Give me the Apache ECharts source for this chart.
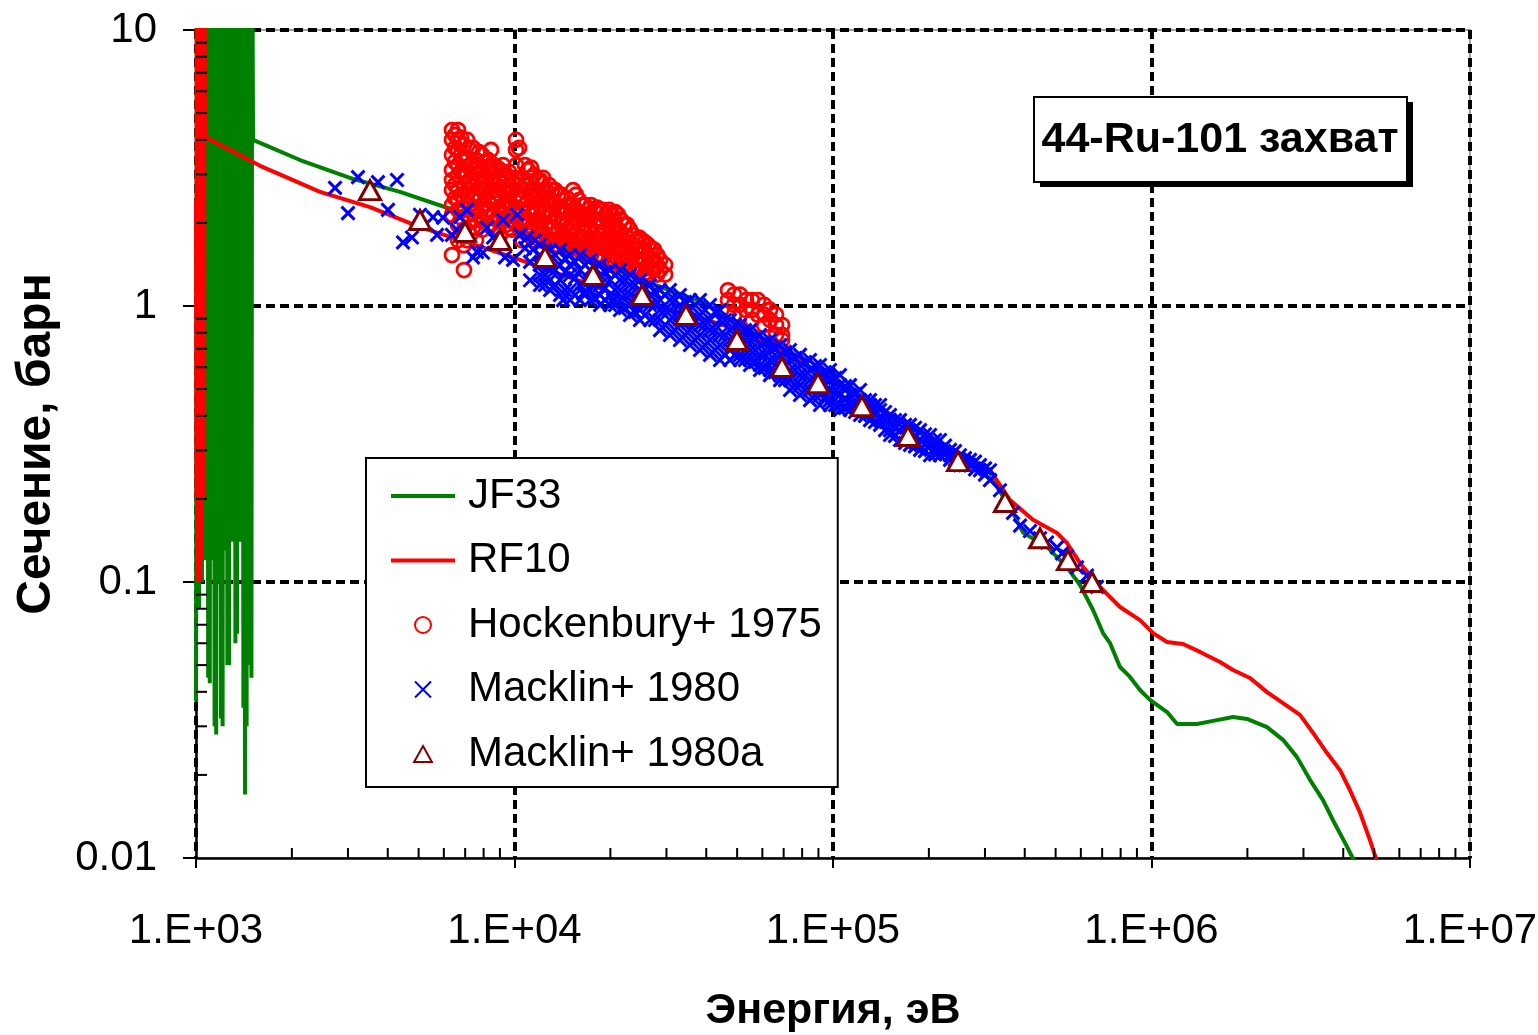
<!DOCTYPE html>
<html><head><meta charset="utf-8">
<script src="https://cdn.jsdelivr.net/npm/echarts@6/dist/echarts.min.js"></script>
<style>html,body{margin:0;padding:0;background:#fff}#c{width:1538px;height:1035px}</style>
</head><body><div id="c"></div>
<script>
// ---------- DATA ----------
const xTickExp = ['03','04','05','06','07'];
const yTickLabels = ['0.01','0.1','1','10'];
const minorFactors = [2,3,4,5,6,7,8,9];
const xDecades = [1e3,1e4,1e5,1e6];
const yDecades = [0.01,0.1,1];

// JF33 resolved-resonance region (E eV, sigma b)
const jf33Res = [[1000,0.037],[1007,30],[1022,0.08],[1029,30],[1044,0.1],[1052,30],
 [1067,0.12],[1073,30],[1079.5,0.15],[1085.8,30],[1092.1,0.045],[1098.4,30],[1104.8,0.043],[1111.2,30],
 [1117.7,0.14],[1124.2,30],[1130.7,0.12],[1137.3,30],[1143.9,0.03],[1150.5,30],[1157.2,0.028],[1163.9,30],
 [1170.6,0.1],[1177.4,30],[1184.3,0.15],[1191.1,30],[1198,0.032],[1205,30],[1212,0.03],[1219,30],
 [1226.1,0.13],[1233.2,30],[1240.4,0.15],[1247.6,30],[1254.8,0.05],[1262.1,30],[1269.4,0.05],[1276.8,30],
 [1284.2,0.15],[1291.7,30],[1299.2,0.14],[1306.7,30],[1314.3,0.15],[1321.9,30],[1329.6,0.06],[1337.3,30],
 [1345.1,0.065],[1352.9,30],[1360.7,0.15],[1368.6,30],[1376.6,0.14],[1384.6,30],[1392.6,0.15],[1400.7,30],
 [1408.8,0.035],[1417,30],[1425.2,0.017],[1433.5,30],[1441.8,0.03],[1450.2,30],[1458.6,0.14],[1467.1,30],
 [1475.6,0.05],[1484.2,30],[1492.8,0.045],[1501.5,30]];
const jf33Smooth = [[1510,4.0],[1589,3.9],[2121,3.38],[3044,2.91],[4370,2.59],[6140,2.27],[9006,1.98],[12020,1.78],[18560,1.44],[26630,1.21],[39080,1.03],[51050,0.853],[73280,0.664],[115600,0.484],[162300,0.386],[250400,0.281],[318000,0.234],[367400,0.178],[395100,0.151],[469900,0.134],[542900,0.113],[596500,0.0975],[655300,0.0792],[704200,0.0653],[740800,0.0601],[796200,0.0492],[856000,0.0453],[920000,0.0406],[989000,0.0374],[1119000,0.0338],[1203000,0.0306],[1390000,0.0306],[1561000,0.0314],[1803000,0.0324],[1995000,0.0319],[2305000,0.0298],[2588000,0.0268],[2863000,0.0232],[3145000,0.0192],[3455000,0.0162],[3714000,0.0137],[4110000,0.011],[4418000,0.0093]];

// RF10
const rf10Res = [[1000,2.4],[1003,0.2],[1005,30],[1008,0.15],[1011,30],[1014,0.1],[1017,30],[1021,0.11],[1024,30],[1028,0.1],[1032,30],[1036,0.12],[1040,30],[1044,0.15],[1048,30],[1052,0.2],[1056,30],[1060,0.3],[1063,30]];
const rf10Smooth = [[1067,4.1],[1326,3.6],[1589,3.22],[1959,2.9],[2451,2.59],[3518,2.28],[5050,1.93],[7250,1.69],[10410,1.47],[13210,1.33],[16890,1.21],[21440,1.08],[28630,0.983],[38230,0.905],[51050,0.818],[73280,0.664],[115600,0.484],[162300,0.386],[250400,0.281],[311100,0.2545],[359500,0.198],[424600,0.168],[505000,0.1505],[542900,0.1385],[596500,0.117],[689200,0.0959],[796200,0.0812],[920000,0.0728],[1011000,0.0653],[1119000,0.0606],[1256000,0.0596],[1420000,0.0558],[1641000,0.0513],[1803000,0.048],[2038000,0.0449],[2305000,0.0399],[2588000,0.0364],[2926000,0.033],[3215000,0.0284],[3557000,0.024],[3908000,0.0208],[4200000,0.0176],[4515000,0.0146],[4853000,0.0116],[5217000,0.009]];

// Hockenbury+ 1975: [energy, [cross sections at that energy]]
const hockCols = [
 [6364,[4.34,4.00,3.53,3.11,2.86,2.63,2.32,2.14,1.53]],
 [6504,[4.165,3.74,3.33,2.744,2.46]],
 [6647,[4.34,4.00,3.68,3.24,2.98,2.63,2.42,2.23,1.97,1.73]],
 [6792,[4.07,3.525,3.06,2.525,2.09]],
 [6940,[3.83,3.38,3.11,2.74,2.42,2.23,1.89,1.66,1.35]],
 [7095,[4.00,3.43,2.98,2.53,2.14,1.73]],
 [7250,[3.68,3.24,2.86,2.63,2.32,2.05,1.81]],
 [7407,[3.74,3.33,2.74,2.42,1.92]],
 [7571,[3.38,3.11,2.86,2.53,2.23,2.05,1.73]],
 [7736,[3.61,3.24,2.98,2.68,2.42,2.14]],
 [7907,[3.53,3.11,2.86,2.63,2.32,2.05,1.89]],
 [8082,[3.33,2.98,2.53,2.19]],
 [8256,[3.38,3.11,2.74,2.42,2.23,1.97]],
 [8437,[3.675,3.24,2.91,2.59,2.09]],
 [8623,[3.24,2.86,2.63,2.42,2.14,1.89]],
 [8811,[3.17,2.74,2.46,2.05]],
 [9006,[3.11,2.86,2.53,2.23,2.05,1.81]],
 [9203,[3.24,2.98,2.68,2.32,2.14]],
 [9404,[2.98,2.63,2.42,2.23,1.97]],
 [9610,[3.06,2.74,2.53,2.14,1.92]],
 [9822,[2.86,2.63,2.32,2.05,1.89]],
 [10110,[4.00,3.68,3.24,2.86,2.53,2.23,1.97]],
 [10330,[3.74,2.74,2.46,2.14]],
 [10560,[2.86,2.63,2.42,2.23,1.97,1.73]],
 [10790,[3.24,2.74,2.32,2.05,1.85]],
 [11030,[3.11,2.74,2.42,2.23,2.05,1.81]],
 [11270,[3.17,2.91,2.59,2.14,1.92]],
 [11510,[2.98,2.63,2.42,2.14,1.89,1.73]],
 [11770,[2.86,2.53,2.23,2.02,1.81]],
 [12020,[2.86,2.53,2.32,2.05,1.89,1.73]],
 [12290,[2.91,2.63,2.32,2.14,1.85]],
 [12560,[2.63,2.42,2.23,1.97,1.81]],
 [12840,[2.74,2.46,2.14,1.89,1.70]],
 [13110,[2.63,2.32,2.14,1.89,1.73,1.60]],
 [13410,[2.63,2.32,2.09,1.81,1.66]],
 [13700,[2.53,2.23,2.05,1.89,1.66]],
 [14000,[2.53,2.23,1.97,1.73]],
 [14300,[2.42,2.23,2.05,1.81,1.66]],
 [14620,[2.46,2.19,2.02,1.77,1.60]],
 [14940,[2.32,2.14,1.89,1.73,1.60]],
 [15270,[2.63,2.32,2.14,1.92,1.70]],
 [15600,[2.53,2.23,2.05,1.81,1.66]],
 [15940,[2.42,2.19,1.97,1.77,1.60]],
 [16290,[2.32,2.14,1.89,1.73,1.60]],
 [16650,[2.32,2.14,1.97,1.77,1.57]],
 [17010,[2.23,2.05,1.89,1.66,1.53]],
 [17390,[2.32,2.09,1.89,1.70,1.53]],
 [17770,[2.23,1.97,1.73,1.60]],
 [18160,[2.27,2.05,1.85,1.66,1.53]],
 [18560,[2.23,2.05,1.81,1.66,1.47]],
 [18970,[2.23,2.02,1.81,1.62,1.49]],
 [19380,[2.14,1.89,1.73,1.60]],
 [19810,[2.23,2.02,1.81,1.62,1.47]],
 [20240,[2.14,1.89,1.73,1.53,1.41]],
 [20690,[2.19,1.97,1.77,1.60,1.44]],
 [21130,[2.14,1.89,1.73,1.60,1.47]],
 [21600,[2.05,1.85,1.66,1.49]],
 [22070,[1.97,1.73,1.60,1.47]],
 [22560,[1.97,1.77,1.60,1.44]],
 [23050,[1.89,1.66,1.53,1.41]],
 [23560,[1.81,1.66,1.53,1.37]],
 [24070,[1.73,1.60,1.47,1.35]],
 [24600,[1.77,1.62,1.47,1.35]],
 [25140,[1.73,1.60,1.47,1.35]],
 [25690,[1.70,1.57,1.44,1.32]],
 [26250,[1.66,1.53,1.41,1.30]],
 [26830,[1.62,1.49,1.37]],
 [27420,[1.60,1.47,1.35]],
 [28020,[1.53,1.41,1.30]],
 [28630,[1.47,1.35]],
 [29690,[1.41,1.30]],
 [46810,[1.14,1.05]],
 [48900,[1.10,1.01,0.93]],
 [51050,[1.10,1.01,0.93]],
 [53310,[1.05,0.967]],
 [55680,[1.05,0.967,0.89]],
 [58150,[1.05,0.93]],
 [60720,[1.01,0.93,0.853]],
 [63410,[0.967,0.89]],
 [66220,[0.93,0.853,0.785]],
 [69170,[0.853,0.785,0.753]]
];

// Macklin+ 1980
const mackSparse = [[2732,2.68],[3001,2.17],[3226,2.93],[3727,2.81],[4006,2.23],[4276,2.86],[4467,1.70],[4766,1.77],[5050,2.14],[5548,2.10],[5964,2.09],[5711,1.81],[6364,1.81],[6744,2.10],[7095,2.23],[6598,1.89],[7625,1.57],[7407,1.50],[7962,1.56],[8196,1.92],[8562,1.77],[9203,2.05],[10180,2.14],[9892,1.47],[9337,1.50],[10410,1.81],[10950,1.77],[11430,1.60],[11190,1.24],[10790,1.62],[11190,1.445],[11600,1.73],[13210,1.17],[14200,1.05],[16410,1.11],[20390,1.05]];
const mackCols = [
 [12020,[1.663,1.53,1.408,1.295,1.191]],
 [12470,[1.596,1.444,1.295,1.191]],
 [12930,[1.596,1.468,1.35,1.242,1.143]],
 [13410,[1.53,1.35,1.191]],
 [13900,[1.596,1.408,1.242,1.096]],
 [14410,[1.49,1.328,1.143]],
 [14940,[1.53,1.408,1.295,1.143,1.051]],
 [15490,[1.444,1.263,1.096]],
 [16060,[1.53,1.35,1.191,1.051]],
 [16650,[1.408,1.242,1.124]],
 [17270,[1.468,1.35,1.242,1.143,1.051]],
 [17900,[1.373,1.221,1.069]],
 [18560,[1.408,1.295,1.191,1.096,1.008]],
 [19240,[1.328,1.161,1.051]],
 [19950,[1.35,1.242,1.096,1.008]],
 [20690,[1.295,1.143,1.008]],
 [21440,[1.35,1.242,1.143,1.051,0.967]],
 [22230,[1.242,1.096,0.983]],
 [23050,[1.295,1.191,1.096,1.008,0.928]],
 [23890,[1.191,1.069,0.951]],
 [24770,[1.242,1.143,1.051,0.967,0.89]],
 [25690,[1.161,1.034,0.928]],
 [26630,[1.191,1.096,1.008,0.89]],
 [27610,[1.124,1.008,0.89]],
 [28630,[1.143,1.051,0.967,0.89,0.818]],
 [29690,[1.096,0.967,0.853]],
 [30770,[1.143,1.051,0.967,0.89,0.785]],
 [31910,[1.051,0.928,0.818]],
 [33080,[1.096,1.008,0.928,0.853,0.753]],
 [34300,[1.034,0.905,0.785]],
 [35560,[1.051,0.967,0.89,0.818,0.722]],
 [36870,[1.008,0.875,0.753]],
 [38230,[1.051,0.928,0.853,0.785,0.693]],
 [39640,[0.967,0.853,0.722]],
 [41100,[1.008,0.89,0.818,0.753,0.665]],
 [42610,[0.951,0.818,0.693]],
 [44180,[0.967,0.89,0.785,0.722,0.637]],
 [45810,[0.89,0.785,0.665]],
 [47490,[0.89,0.818,0.753,0.693,0.637]],
 [49240,[0.853,0.753,0.665]],
 [51050,[0.853,0.785,0.722,0.665,0.637]],
 [52930,[0.818,0.753,0.693,0.637]],
 [54880,[0.818,0.753,0.693,0.637,0.611]],
 [56900,[0.765,0.693,0.627]],
 [58990,[0.785,0.722,0.665,0.611,0.586]],
 [61170,[0.741,0.665,0.596]],
 [63410,[0.753,0.693,0.637,0.586,0.562]],
 [65740,[0.704,0.637,0.576]],
 [68180,[0.722,0.665,0.611,0.562,0.539]],
 [70690,[0.682,0.611,0.539]],
 [73280,[0.693,0.637,0.586,0.539,0.496]],
 [75970,[0.648,0.586,0.517]],
 [78770,[0.665,0.611,0.562,0.517,0.476]],
 [81690,[0.627,0.562,0.496]],
 [84690,[0.637,0.586,0.539,0.496,0.456]],
 [87810,[0.606,0.539,0.476]],
 [91030,[0.611,0.562,0.517,0.476,0.438]],
 [94390,[0.576,0.517,0.464]],
 [97860,[0.586,0.539,0.496,0.456,0.438]],
 [101500,[0.548,0.488,0.438]],
 [105200,[0.562,0.517,0.476,0.438,0.42]],
 [109100,[0.513,0.464,0.427]],
 [113100,[0.517,0.476,0.438,0.42]],
 [117300,[0.48,0.441,0.413]],
 [121600,[0.496,0.456,0.42,0.403]],
 [126100,[0.456,0.42,0.40]],
 [130700,[0.456,0.438,0.42,0.386]],
 [135500,[0.438,0.406,0.38]],
 [140500,[0.438,0.42,0.386,0.371]],
 [145700,[0.413,0.386,0.355]],
 [151000,[0.403,0.386,0.355,0.341]],
 [156600,[0.386,0.362,0.338]],
 [162300,[0.386,0.355,0.327]],
 [168400,[0.371,0.341,0.319]],
 [174500,[0.371,0.341,0.314]],
 [181000,[0.362,0.333,0.31]],
 [187600,[0.355,0.327,0.301]],
 [194500,[0.343,0.317,0.298]],
 [201700,[0.341,0.314,0.288]],
 [209200,[0.327,0.306,0.29]],
 [216700,[0.327,0.301,0.288]],
 [224800,[0.312,0.293]],
 [233000,[0.301,0.288,0.277]],
 [241600,[0.298,0.277]],
 [250400,[0.288,0.277,0.265]],
 [259700,[0.281,0.265]],
 [269200,[0.277,0.265]],
 [279200,[0.273,0.256]],
 [289400,[0.265,0.254]],
 [300100,[0.258,0.245]],
 [311100,[0.254,0.234]]
];
const mackTail = [[334400,0.215],[367400,0.178],[386500,0.160],[415500,0.153],[446700,0.144],[469900,0.139],[505000,0.1335],[523600,0.127],[542900,0.124],[583700,0.113],[627400,0.1055],[674500,0.096]];

// Macklin+ 1980a
const mackA = [[3518,2.63],[5050,2.05],[6993,1.855],[9006,1.734],[12470,1.505],[17640,1.295],[25140,1.096],[34550,0.928],[49950,0.753],[69170,0.601],[89740,0.525],[123300,0.434],[172000,0.338],[246900,0.274],[346700,0.195],[446700,0.144],[546800,0.120],[650600,0.100]];

// ---------- BUILD ----------
function flattenCols(cols){const out=[];cols.forEach(c=>c[1].forEach(v=>out.push([c[0],v])));return out;}
const jf33 = jf33Res.concat(jf33Smooth);
const rf10 = rf10Res.concat(rf10Smooth);
const hock = flattenCols(hockCols);
const mack = mackSparse.concat(flattenCols(mackCols), mackTail);
const xMinor = [], yMinor = [];
xDecades.forEach(d=>minorFactors.forEach(f=>xMinor.push([d*f,0.01])));
yDecades.forEach(d=>minorFactors.forEach(f=>yMinor.push([1000,d*f])));

const FONT = '"Liberation Sans", Arial, sans-serif';
const TRI = 'path://M5 0L10 9L0 9Z';

const chart = echarts.init(document.getElementById('c'), null, {renderer:'canvas'});
chart.setOption({
  animation:false,
  backgroundColor:'#fff',
  grid:{left:196, top:30, right:68, bottom:177, containLabel:false, outerBoundsMode:'none',
    show:true, borderColor:'#808080', borderWidth:1.5, backgroundColor:'transparent'},
  xAxis:{
    type:'log', logBase:10, min:1000, max:1e7,
    name:'Энергия, эВ', nameLocation:'middle', nameGap:132,
    nameTextStyle:{fontFamily:FONT, fontWeight:'bold', fontSize:43, color:'#000'},
    axisLine:{show:true, onZero:false, lineStyle:{color:'#000', width:2.5}},
    axisTick:{show:true, inside:false, length:10, lineStyle:{color:'#000', width:2}},
    axisLabel:{margin:52, fontFamily:FONT, fontSize:42, color:'#000',
      formatter:v=>'1.E+'+xTickExp[Math.round(Math.log10(v))-3]},
    splitLine:{show:true, showMinLine:false, lineStyle:{color:'#000', width:4, type:[9,5]}},
    minorTick:{show:false}, minorSplitLine:{show:false}
  },
  yAxis:{
    type:'log', logBase:10, min:0.01, max:10,
    name:'Сечение, барн', nameLocation:'middle', nameGap:135, nameRotate:90,
    nameTextStyle:{fontFamily:FONT, fontWeight:'bold', fontSize:48, color:'#000'},
    axisLine:{show:true, onZero:false, lineStyle:{color:'#000', width:2.5}},
    axisTick:{show:true, inside:false, length:13, lineStyle:{color:'#000', width:2}},
    axisLabel:{margin:39, fontFamily:FONT, fontSize:42, color:'#000',
      formatter:v=>yTickLabels[Math.round(Math.log10(v))+2]},
    splitLine:{show:true, showMinLine:false, lineStyle:{color:'#000', width:4, type:[9,5]}}
  },
  legend:{
    orient:'vertical', left:366, top:458,
    data:[
      {name:'JF33', itemStyle:{opacity:0}, lineStyle:{width:4}},
      {name:'RF10', itemStyle:{opacity:0}, lineStyle:{width:4}},
      'Hockenbury+ 1975','Macklin+ 1980',
      {name:'Macklin+ 1980a', icon:TRI}],
    symbolKeepAspect:true,
    itemWidth:64, itemHeight:16, itemGap:14.5,
    padding:[13,16,8,23],
    borderColor:'#000', borderWidth:2, backgroundColor:'#fff',
    selectedMode:false,
    textStyle:{fontFamily:FONT, fontSize:42, lineHeight:50, color:'#000', padding:[0,0,0,8]}
  },
  graphic:[
    {type:'rect', left:1040, top:102, z:100, shape:{width:373, height:85}, style:{fill:'#000'}},
    {type:'rect', left:1033, top:96, z:101, shape:{width:373, height:85},
      style:{fill:'#fff', stroke:'#000', lineWidth:2}},
    {type:'text', x:1220, y:140, z:102,
      style:{text:'44-Ru-101 захват', fontFamily:FONT, fontWeight:'bold', fontSize:43, fill:'#000', align:'center', verticalAlign:'middle'}}
  ],
  series:[
    {name:'JF33', type:'line', data:jf33, symbol:'none', showSymbol:false, clip:true,
      lineStyle:{color:'#008000', width:4}, itemStyle:{color:'#008000'}, z:2},
    {name:'RF10', type:'line', data:rf10, symbol:'none', showSymbol:false, clip:true,
      lineStyle:{color:'#ff0000', width:4}, itemStyle:{color:'#ff0000'}, z:3},
    {name:'Hockenbury+ 1975', type:'scatter', data:hock, symbol:'circle', symbolSize:14, symbolKeepAspect:true, z:4,
      itemStyle:{color:'rgba(255,255,255,0)', borderColor:'#ff0000', borderWidth:2.8, opacity:1}},
    {name:'Macklin+ 1980', type:'scatter', data:mack, symbol:'path://M0 0L10 10M10 0L0 10', symbolSize:13, symbolKeepAspect:true, z:5,
      itemStyle:{color:'#0000ff', borderColor:'#0000ff', borderWidth:3, opacity:1}},
    {name:'Macklin+ 1980a', type:'scatter', data:mackA, symbol:'triangle', symbolSize:[21,19], z:6,
      itemStyle:{color:'#ffffff', borderColor:'#800000', borderWidth:3, opacity:1}},
    {type:'custom', data:xMinor, silent:true, z:7,
      renderItem:(p,api)=>{const c=api.coord([api.value(0),api.value(1)]);
        return {type:'line', shape:{x1:c[0],y1:c[1],x2:c[0],y2:c[1]-10}, style:{stroke:'#000',lineWidth:2}};}},
    {type:'custom', data:yMinor, silent:true, z:7,
      renderItem:(p,api)=>{const c=api.coord([api.value(0),api.value(1)]);
        return {type:'line', shape:{x1:c[0],y1:c[1],x2:c[0]+11,y2:c[1]}, style:{stroke:'#000',lineWidth:2}};}}
  ]
});
</script></body></html>
